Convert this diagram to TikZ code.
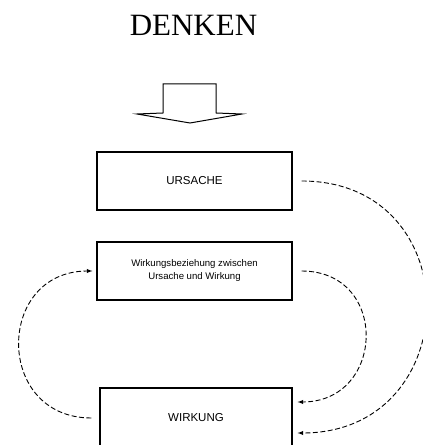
\documentclass[tikz,border=0pt]{standalone}
\usepackage{fontspec}
\setmainfont{Liberation Serif}
\setsansfont{Liberation Sans}
\usetikzlibrary{positioning}

\begin{document}
\begin{tikzpicture}[>=latex,x=1pt,y=1pt,
        kasten/.style={draw,line width=1.1pt,minimum width=195pt,minimum height=58pt,
            inner sep=0pt,font=\sffamily\fontsize{11.5}{13}\selectfont},
        bezug/.style={dash pattern=on 5pt off 2.5pt,line width=0.9pt}]
        \useasboundingbox (0,0) rectangle (423,445);
        \clip (0,0) rectangle (423,445);

        \node (titel) at (193.5,419.5) {\fontsize{31}{36}\selectfont DENKEN};

        % Blockpfeil nach unten
        \draw[line width=1pt] (163,361)--(216,361)--(216,332)--(242,331)
        --(190,322)--(137,331)--(163,332)--cycle;

        \node[kasten] (ursache) at (194.5,264) {URSACHE};
        \node[kasten,align=center,font=\sffamily\fontsize{9.6}{13}\selectfont] (beziehung)
        at (194.5,174) {Wirkungsbeziehung zwischen\\Ursache und Wirkung};
        \node[kasten,minimum width=192pt,minimum height=60pt] (wirkung) at (196,27) {WIRKUNG};

        \draw[bezug,->] ([xshift=9pt]ursache.east) to[out=0,in=0,distance=169pt]
        ([xshift=5pt,yshift=-15pt]wirkung.east);
        \draw[bezug,->] ([xshift=9pt]beziehung.east) to[out=0,in=0,distance=88pt]
        ([xshift=5pt,yshift=16pt]wirkung.east);
        \draw[bezug,->] ([xshift=-8pt]wirkung.west) to[out=180,in=180,distance=97pt]
        ([xshift=-4pt]beziehung.west);    % Rueckkopplung
\end{tikzpicture}
\end{document}
